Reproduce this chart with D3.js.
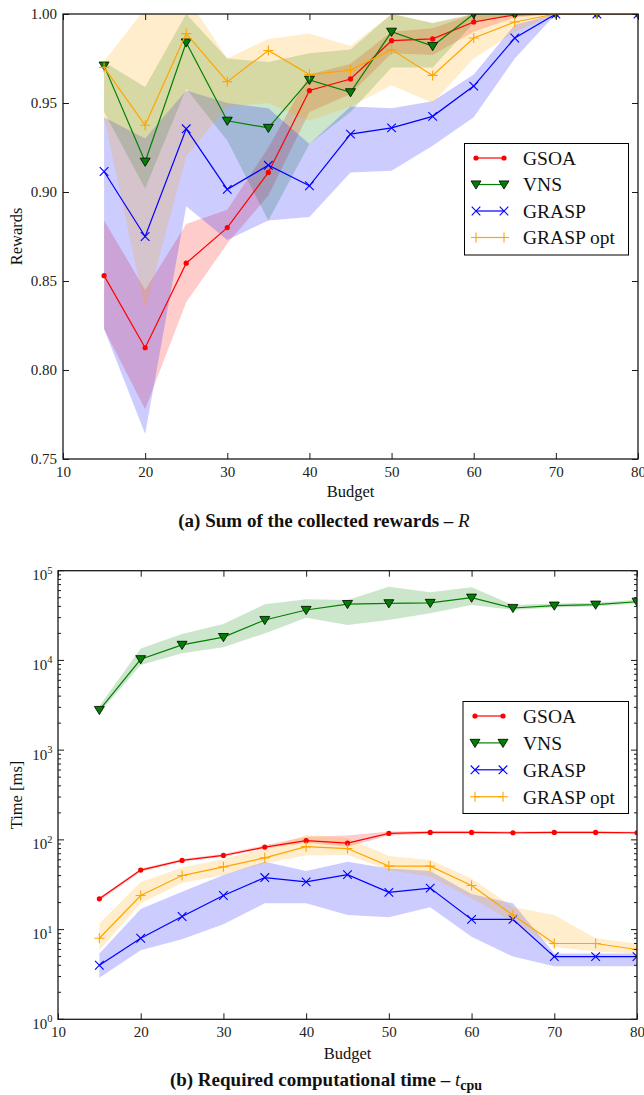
<!DOCTYPE html>
<html><head><meta charset="utf-8">
<script src="https://cdn.jsdelivr.net/npm/d3@7"></script>
<style>body{margin:0;background:#fff} text{font-family:"Liberation Serif","DejaVu Serif",serif}</style>
</head><body><svg id="c" width="644" height="1095"></svg>
<script>
// ---------- data ----------
const budgets = [15,20,25,30,35,40,45,50,55,60,65,70,75,80];
const methods = ["GSOA","VNS","GRASP","GRASP opt"];
const xTicks = [10,20,30,40,50,60,70,80];
const rewardTicks = [0.75,0.80,0.85,0.90,0.95,1.00];
const timeTicks = [1,10,100,1000,10000,100000];

// (a) rewards
const rewardGSOA   = [0.853,0.8125,0.860,0.880,0.911,0.957,0.9635,0.985,0.986,0.9955,0.9995,1.0,1.0,1.0];
const rewardGSOALo = [0.823,0.778,0.838,0.871,0.898,0.945,0.955,0.978,0.977,0.990,0.998,1.0,1.0,1.0];
const rewardGSOAHi = [0.884,0.845,0.882,0.890,0.925,0.966,0.972,0.990,0.992,1.0,1.0,1.0,1.0,1.0];
const rewardVNS    = [0.971,0.917,0.984,0.940,0.936,0.963,0.956,0.990,0.982,1.0,1.0,1.0,1.0,1.0];
const rewardVNSLo  = [0.945,0.902,0.958,0.929,0.884,0.927,0.945,0.970,0.970,0.995,1.0,1.0,1.0,1.0];
const rewardVNSHi  = [0.973,0.959,1.0,0.975,0.973,0.978,0.980,1.0,0.995,1.0,1.0,1.0,1.0,1.0];
const rewardGRASP   = [0.9115,0.875,0.9355,0.9015,0.915,0.9035,0.9325,0.936,0.9425,0.9595,0.9865,1.0,1.0,1.0];
const rewardGRASPLo = [0.823,0.764,0.892,0.873,0.884,0.886,0.911,0.912,0.926,0.942,0.975,1.0,1.0,1.0];
const rewardGRASPHi = [0.942,0.930,0.957,0.950,0.947,0.927,0.948,0.947,0.951,0.966,0.994,1.0,1.0,1.0];
const rewardOpt    = [0.970,0.9375,0.989,0.962,0.9795,0.966,0.9685,0.980,0.9655,0.9865,0.9955,1.0,1.0,1.0];
const rewardOptLo  = [0.942,0.834,0.920,0.948,0.950,0.940,0.948,0.960,0.950,0.975,0.990,1.0,1.0,1.0];
const rewardOptHi  = [0.9735,1.003,1.01,0.975,0.986,0.989,0.982,1.0,0.995,1.0,1.0,1.0,1.0,1.0];

// (b) computational time [ms]
const timeGSOA   = [22,46,59,67,83,98,92,118,121,121,120,121,121,120];
const timeGSOALo = [21,44,57,65,80,93,84,112,117,117,116,117,117,116];
const timeGSOAHi = [23,48,61,70,87,108,112,124,126,126,125,125,125,124];
const timeVNS    = [2800,10300,14900,18200,28200,36500,42500,43300,43700,50000,38400,40800,41800,45100];
const timeVNSLo  = [2600,8900,12000,14000,20000,29900,24800,28200,33500,41400,36500,39000,40000,43000];
const timeVNSHi  = [3100,13600,19700,25500,42200,48000,47100,66400,57400,65300,41400,43000,44000,47500];
const timeGRASP   = [4,8,14,24,38,34,41,26,29,13,13,5,5,5];
const timeGRASPLo = [2.9,5.9,7.8,11.5,19.6,19.6,14.5,13.7,17.7,8.3,5.0,3.9,3.9,3.9];
const timeGRASPHi = [5.4,17,26.4,40.5,57,45,57,48,45,25,19.6,5.4,5.4,5.4];
const timeOpt    = [8,24,40,50,63,84,80,51,51,31,14.5,7,7,6];
const timeOptLo  = [5.9,19.6,33,40.5,54.7,67,67.6,46,38.8,22.3,12.2,6.4,5.7,5.4];
const timeOptHi  = [11.7,34,49.3,61,80,113,104,66,59.6,37.2,17.9,14.5,8,7];

// ---------- styling ----------
const colors = ["#ff0000","#008000","#0000ff","#ffa500"];
const svg = d3.select("#c");

function marker(g, k, color) {
  if (k === 0) {
    g.append("circle").attr("r", 2.6).attr("fill", color);
  } else if (k === 1) {
    g.append("path").attr("d", "M-5,-3.6L5,-3.6L0,4.6Z")
      .attr("fill", color).attr("stroke", "#000").attr("stroke-width", 0.8);
  } else if (k === 2) {
    g.append("path").attr("d", "M-4.3,-4.3L4.3,4.3M-4.3,4.3L4.3,-4.3")
      .attr("stroke", color).attr("stroke-width", 1.1).attr("fill", "none");
  } else {
    g.append("path").attr("d", "M-5,0L5,0M0,-5L0,5")
      .attr("stroke", color).attr("stroke-width", 1.1).attr("fill", "none");
  }
}

function drawChart(cfg) {
  const {id, L, R, T, B, y, series, log, yTicks, yLabel, xLabelY, legend} = cfg;
  const x = d3.scaleLinear().domain([10, 80]).range([L, R]);
  const root = svg.append("g");
  const clipId = "clip" + id;
  root.append("clipPath").attr("id", clipId)
    .append("rect").attr("x", L).attr("y", T).attr("width", R - L).attr("height", B - T);
  const plot = root.append("g").attr("clip-path", `url(#${clipId})`);

  // bands
  series.forEach((s, k) => {
    const area = d3.area().x((d, i) => x(budgets[i])).y0((d, i) => y(s.lo[i])).y1((d, i) => y(s.hi[i]));
    plot.append("path").datum(s.v).attr("d", area)
      .attr("fill", colors[k]).attr("fill-opacity", 0.2).attr("stroke", "none");
  });
  // lines + markers
  series.forEach((s, k) => {
    const line = d3.line().x((d, i) => x(budgets[i])).y(d => y(d));
    plot.append("path").datum(s.v).attr("d", line)
      .attr("fill", "none").attr("stroke", colors[k]).attr("stroke-width", 1.2);
    s.v.forEach((d, i) => {
      const g = plot.append("g").attr("transform", `translate(${x(budgets[i])},${y(d)})`);
      marker(g, k, colors[k]);
    });
  });

  // frame
  root.append("rect").attr("x", L).attr("y", T).attr("width", R - L).attr("height", B - T)
    .attr("fill", "none").attr("stroke", "#1a1a1a").attr("stroke-width", 1.3);

  // x ticks (inward, bottom and top)
  const gxb = root.append("g").attr("transform", `translate(0,${B})`)
    .call(d3.axisBottom(x).tickValues(xTicks).tickSize(-6).tickPadding(7).tickFormat(d3.format("d")));
  const gxt = root.append("g").attr("transform", `translate(0,${T})`)
    .call(d3.axisTop(x).tickValues(xTicks).tickSize(-6).tickFormat(""));
  [gxb, gxt].forEach(g => {
    g.attr("font-family", null);
    g.select(".domain").remove();
    g.selectAll("line").attr("stroke", "#1a1a1a");
  });
  gxb.selectAll("text").attr("font-size", 15).attr("fill", "#222");

  // y ticks
  if (!log) {
    const gyl = root.append("g").attr("transform", `translate(${L},0)`)
      .call(d3.axisLeft(y).tickValues(yTicks).tickSize(-6).tickPadding(6).tickFormat(d3.format(".2f")));
    const gyr = root.append("g").attr("transform", `translate(${R},0)`)
      .call(d3.axisRight(y).tickValues(yTicks).tickSize(-6).tickFormat(""));
    [gyl, gyr].forEach(g => {
      g.attr("font-family", null);
      g.select(".domain").remove();
      g.selectAll("line").attr("stroke", "#1a1a1a");
    });
    gyl.selectAll("text").attr("font-size", 15).attr("fill", "#222");
  } else {
    const minor = [];
    for (let e = 0; e < 5; e++) for (let m = 2; m <= 9; m++) minor.push(m * Math.pow(10, e));
    const tg = root.append("g").attr("stroke", "#1a1a1a").attr("stroke-width", 1);
    yTicks.forEach(v => {
      tg.append("line").attr("x1", L).attr("x2", L + 6).attr("y1", y(v)).attr("y2", y(v));
      tg.append("line").attr("x1", R).attr("x2", R - 6).attr("y1", y(v)).attr("y2", y(v));
    });
    minor.forEach(v => {
      tg.append("line").attr("x1", L).attr("x2", L + 3).attr("y1", y(v)).attr("y2", y(v));
      tg.append("line").attr("x1", R).attr("x2", R - 3).attr("y1", y(v)).attr("y2", y(v));
    });
    yTicks.forEach(v => {
      const e = Math.round(Math.log10(v));
      const t = root.append("text").attr("x", L - 5.5).attr("y", y(v) + 9.5)
        .attr("text-anchor", "end").attr("font-size", 15).attr("fill", "#222");
      t.append("tspan").text("10");
      t.append("tspan").attr("font-size", 10.5).attr("dy", -6.5).text(e);
    });
  }

  // axis labels
  root.append("text").attr("x", (L + R) / 2).attr("y", xLabelY).attr("text-anchor", "middle")
    .attr("font-size", 16.5).attr("fill", "#111").text("Budget");
  root.append("text").attr("transform", `translate(22,${(T + B) / 2}) rotate(-90)`)
    .attr("text-anchor", "middle").attr("font-size", 16.5)
    .attr("fill", "#111").text(yLabel);

  // legend
  const lg = root.append("g");
  lg.append("rect").attr("x", legend.x0).attr("y", legend.y0)
    .attr("width", legend.x1 - legend.x0).attr("height", legend.y1 - legend.y0)
    .attr("fill", "#fff").attr("stroke", "#000").attr("stroke-width", 1);
  methods.forEach((m, k) => {
    const yy = legend.rowY + k * legend.dy;
    lg.append("line").attr("x1", legend.hx0).attr("x2", legend.hx1).attr("y1", yy).attr("y2", yy)
      .attr("stroke", colors[k]).attr("stroke-width", 1.2);
    [legend.hx0, legend.hx1].forEach(px => {
      marker(lg.append("g").attr("transform", `translate(${px},${yy})`), k, colors[k]);
    });
    lg.append("text").attr("x", legend.tx).attr("y", yy + 6.8)
      .attr("font-size", 19.5).attr("fill", "#111").text(m);
  });
}

// chart (a)
const yA = d3.scaleLinear().domain([0.75, 1.0]).range([459, 14]);
drawChart({
  id: "a", L: 63, R: 638, T: 14, B: 459, y: yA, log: false, yTicks: rewardTicks,
  yLabel: "Rewards", xLabelY: 497,
  series: [
    {v: rewardGSOA, lo: rewardGSOALo, hi: rewardGSOAHi},
    {v: rewardVNS, lo: rewardVNSLo, hi: rewardVNSHi},
    {v: rewardGRASP, lo: rewardGRASPLo, hi: rewardGRASPHi},
    {v: rewardOpt, lo: rewardOptLo, hi: rewardOptHi}
  ],
  legend: {x0: 464.5, x1: 628.5, y0: 143.5, y1: 255, hx0: 476, hx1: 504, tx: 523, rowY: 158, dy: 26.5}
});

// chart (b)
const yB = d3.scaleLog().domain([1, 100000]).range([1019.3, 570.7]);
drawChart({
  id: "b", L: 58, R: 637, T: 570.7, B: 1019.3, y: yB, log: true, yTicks: timeTicks,
  yLabel: "Time [ms]", xLabelY: 1058.5,
  series: [
    {v: timeGSOA, lo: timeGSOALo, hi: timeGSOAHi},
    {v: timeVNS, lo: timeVNSLo, hi: timeVNSHi},
    {v: timeGRASP, lo: timeGRASPLo, hi: timeGRASPHi},
    {v: timeOpt, lo: timeOptLo, hi: timeOptHi}
  ],
  legend: {x0: 463, x1: 628.5, y0: 701.5, y1: 813.5, hx0: 475, hx1: 503, tx: 523, rowY: 716, dy: 26.9}
});

// captions
const capA = svg.append("text").attr("x", 324).attr("y", 526.5).attr("text-anchor", "middle")
  .attr("font-weight", "bold").attr("font-size", 19).attr("fill", "#111");
capA.append("tspan").text("(a) Sum of the collected rewards \u2013 ");
capA.append("tspan").attr("font-style", "italic").attr("font-weight", "normal").text("R");

const capB = svg.append("text").attr("x", 326).attr("y", 1086).attr("text-anchor", "middle")
  .attr("font-weight", "bold").attr("font-size", 19).attr("fill", "#111");
capB.append("tspan").text("(b) Required computational time \u2013 ");
capB.append("tspan").attr("font-style", "italic").attr("font-weight", "normal").text("t");
capB.append("tspan").attr("font-size", 14).attr("dy", 4).text("cpu");
</script>
</body></html>
